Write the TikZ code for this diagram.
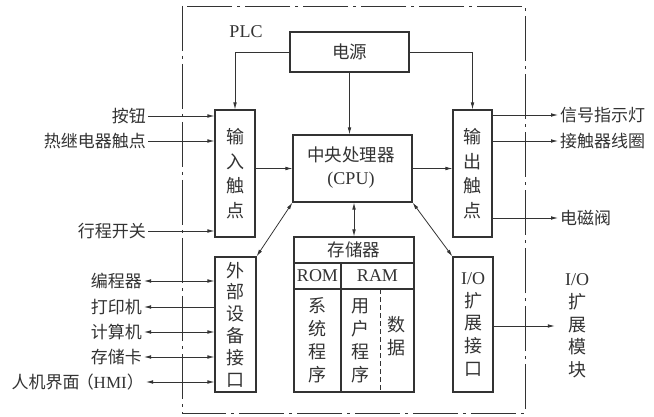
\documentclass[tikz,border=0pt]{standalone}
\usepackage{fontspec}
\setmainfont{Liberation Serif}
\newfontfamily\cjk{Noto Sans CJK SC}
\usetikzlibrary{arrows.meta}
\definecolor{ink}{gray}{0.2}
\begin{document}
\begin{tikzpicture}[x=1pt,y=-1pt,
  every node/.style={text=ink},
  box/.style={draw=ink,line width=1.1pt,inner sep=0pt},
  lat/.style={font=\fontsize{18}{22}\selectfont},
  zh/.style={font=\cjk\fontsize{17.5}{22}\selectfont},
  vt/.style={align=center,font=\cjk\fontsize{18}{#1}\selectfont},
  lab/.style={font=\cjk\fontsize{17}{22}\selectfont,inner sep=2pt},
  arr/.style={draw=ink,line width=0.8pt,-{Latex[length=7pt,width=3.6pt]}},
  darr/.style={draw=ink,line width=0.8pt,{Latex[length=7pt,width=3.6pt]}-{Latex[length=7pt,width=3.6pt]}},
  larr/.style={draw=ink,line width=0.8pt,{Latex[length=7pt,width=3.6pt]}-},
  frame/.style={draw=ink,line width=0.9pt,dash pattern=on 45pt off 5pt on 3pt off 5pt}
]
\useasboundingbox[fill=white] (0,0) rectangle (654,417);

% PLC frame
\draw[frame] (182,6) rectangle (525,413);
\node[lat] (plc) at (246,32) {PLC};

% boxes
\node[box,minimum width=119pt,minimum height=40pt,zh] (pwr) at (349.5,52) {电源};
\node[box,minimum width=40pt,minimum height=127pt] (inp) at (235,173.5) {};
\node[vt=24.5] (inpt) at (inp.center) {输\\入\\触\\点};
\node[box,minimum width=119pt,minimum height=67pt] (cpu) at (352.5,168.5) {};
\node[align=center,font=\fontsize{18}{23}\selectfont] (cput) at (351,168) {{\cjk\fontsize{17.5}{23}\selectfont 中央处理器}\\(CPU)};
\node[box,minimum width=39pt,minimum height=127pt] (out) at (472.5,173.5) {};
\node[vt=24.5] (outt) at (out.center) {输\\出\\触\\点};
\node[box,minimum width=41pt,minimum height=135pt] (ext) at (235.5,324.5) {};
\node[vt=21.8] (extt) at (ext.center) {外\\部\\设\\备\\接\\口};
\node[box,minimum width=120pt,minimum height=155pt] (mem) at (354,314.5) {};
\node[box,minimum width=40pt,minimum height=135pt] (io) at (473,324.5) {};
\node[align=center,font=\fontsize{18}{22.75}\selectfont] (iot) at (io.center) {I/O\\{\cjk 扩}\\{\cjk 展}\\{\cjk 接}\\{\cjk 口}};

% memory internals
\draw[ink,line width=1.1pt] (294,263) -- (414,263);
\draw[ink,line width=1.1pt] (294,289) -- (414,289);
\draw[ink,line width=1.1pt] (341,263) -- (341,392);
\draw[ink,line width=0.9pt,dash pattern=on 5pt off 3pt] (380,289) -- (380,392);
\node[zh] (memt) at (354,250) {存储器};
\node[lat] (rom) at (317.5,276) {ROM};
\node[lat] (ram) at (377.5,276) {RAM};
\node[vt=23] (sys) at (317.5,340) {系\\统\\程\\序};
\node[vt=23] (usr) at (360.5,341) {用\\户\\程\\序};
\node[vt=23] (dat) at (396,336.5) {数\\据};

% power connections
\draw[arr] (pwr.west) -| (inp.north);
\draw[arr] (pwr.east) -| (out.north);
\draw[arr] (pwr.south) -- (pwr.south |- cpu.north);

% inner connections
\draw[arr] (inp.east |- cpu.west) -- (cpu.west);
\draw[arr] (cpu.east) -- (cpu.east -| out.west);
\draw[darr] (cpu.south west) -- (ext.north east);
\draw[darr] (cpu.south -| mem.north) -- (mem.north);
\draw[darr] (cpu.south east) -- (io.north west);

% input labels
\node[lab,anchor=east] (btn) at (148,116) {按钮};
\node[lab,anchor=east] (rly) at (148,141) {热继电器触点};
\node[lab,anchor=east] (trv) at (148,231) {行程开关};
\draw[arr] (btn.east) -- (btn.east -| inp.west);
\draw[arr] (rly.east) -- (rly.east -| inp.west);
\draw[arr] (trv.east) -- (trv.east -| inp.west);

% output labels
\node[lab,anchor=west] (sig) at (558,115) {信号指示灯};
\node[lab,anchor=west] (coil) at (558,141) {接触器线圈};
\node[lab,anchor=west] (sol) at (558,218) {电磁阀};
\draw[arr] (out.east |- sig.west) -- (sig.west);
\draw[arr] (out.east |- coil.west) -- (coil.west);
\draw[arr] (out.east |- sol.west) -- (sol.west);

% external device labels
\node[lab,anchor=east] (prg) at (144,281) {编程器};
\node[lab,anchor=east] (prn) at (144,307) {打印机};
\node[lab,anchor=east] (pc) at (144,332) {计算机};
\node[lab,anchor=east] (card) at (144,357) {存储卡};
\node[lab,anchor=east,font=\fontsize{17}{22}\selectfont] (hmi) at (146,382) {{\cjk 人机界面\hspace{-3pt}（}HMI{\cjk ）\hspace{-7pt}}};
\draw[darr] (prg.east) -- (prg.east -| ext.west);
\draw[larr] (prn.east) -- (prn.east -| ext.west);
\draw[darr] (pc.east) -- (pc.east -| ext.west);
\draw[darr] (card.east) -- (card.east -| ext.west);
\draw[darr] (hmi.east) -- (hmi.east -| ext.west);

% I/O expansion module
\node[align=center,font=\fontsize{18}{22.75}\selectfont,inner xsep=10pt] (mod) at (577,326) {I/O\\{\cjk 扩}\\{\cjk 展}\\{\cjk 模}\\{\cjk 块}};
\draw[arr] (io.east |- mod.west) -- (mod.west);
\end{tikzpicture}
\end{document}
